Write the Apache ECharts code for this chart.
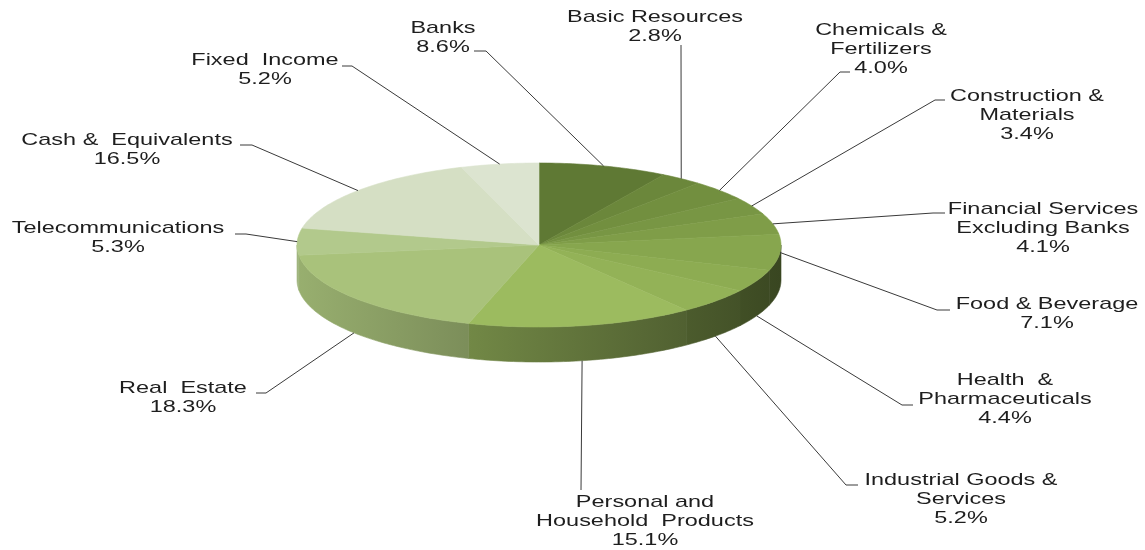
<!DOCTYPE html>
<html><head><meta charset="utf-8">
<script src="https://cdn.jsdelivr.net/npm/echarts@6/dist/echarts.min.js"></script>
<style>html,body{margin:0;padding:0;background:#fff}#c{width:1145px;height:550px}</style>
</head><body><div id="c"></div>
<script>
// ---- data ----
const categories = ['Banks','Basic Resources','Chemicals &\nFertilizers','Construction &\nMaterials','Financial Services\nExcluding Banks','Food & Beverage','Health  &\nPharmaceuticals','Industrial Goods &\nServices','Personal and\nHousehold  Products','Real  Estate','Telecommunications','Cash &  Equivalents','Fixed  Income'];
const shares = [8.6, 2.8, 4.0, 3.4, 4.1, 7.1, 4.4, 5.2, 15.1, 18.3, 5.3, 16.5, 5.2];
const percentLabels = ['8.6%','2.8%','4.0%','3.4%','4.1%','7.1%','4.4%','5.2%','15.1%','18.3%','5.3%','16.5%','5.2%'];
const sliceColors = ['#5f7934','#6b873b','#728f3f','#789644','#7f9d48','#87a64e','#8dac52','#93b257','#9cbb5f','#a9c27b','#b2c98c','#d5dfc4','#dce4d0'];
// label placement: [textCenterX, firstLineCenterY, leaderStartX, leaderStartY, elbowX]
const labelLayout = [
  [443, 28, 474, 51, 486],
  [655, 17, 681, 45, 681],
  [881, 30, 850, 72, 840],
  [1027, 96, 945, 100, 935],
  [1043, 209, 945, 213, 933],
  [1047, 304, 950, 310, 937],
  [1005, 380, 913, 405, 902],
  [961, 480, 858, 485, 846],
  [645, 502, 581, 490, 581],
  [183, 388, 256, 393, 266],
  [118, 228, 235, 234, 246],
  [127, 140, 240, 145, 252],
  [265, 60, 342, 66, 352]
];

// ---- geometry ----
const PIE = {cx: 539, cy: 245, rx: 242, ry: 82, depth: 35};
const total = shares.reduce((a, b) => a + b, 0);
const starts = []; let acc = 0; shares.forEach(v => { starts.push(acc); acc += v; });
const ang = v => v / total * Math.PI * 2;
const pt = (t, dy) => [PIE.cx + PIE.rx * Math.sin(t), PIE.cy - PIE.ry * Math.cos(t) + (dy || 0)];
function arc(a0, a1, dy) {
  const n = Math.max(2, Math.ceil((a1 - a0) / (Math.PI / 180)));
  const p = [];
  for (let k = 0; k <= n; k++) p.push(pt(a0 + (a1 - a0) * k / n, dy));
  return p;
}
function shade(hex, f) {
  const n = parseInt(hex.slice(1), 16);
  const r = Math.round(((n >> 16) & 255) * f), g = Math.round(((n >> 8) & 255) * f), b = Math.round((n & 255) * f);
  return 'rgb(' + r + ',' + g + ',' + b + ')';
}
const seriesData = shares.map((v, i) => [i, v]);

function renderWall(params, api) {
  const i = params.dataIndex;
  const a0 = ang(starts[i]), a1 = ang(starts[i] + api.value(1));
  const b0 = Math.max(a0, Math.PI / 2), b1 = Math.min(a1, Math.PI * 1.5);
  if (b1 <= b0) return {type: 'group', children: []};
  const pts = arc(b0, b1, 0).concat(arc(b0, b1, PIE.depth).reverse());
  const c = sliceColors[i];
  const grad = new echarts.graphic.LinearGradient(PIE.cx - PIE.rx, 0, PIE.cx + PIE.rx, 0, [
    {offset: 0, color: shade(c, 0.9)}, {offset: 0.5, color: shade(c, 0.66)}, {offset: 1, color: shade(c, 0.42)}
  ], true);
  return {type: 'polygon', shape: {points: pts}, style: {fill: grad, stroke: grad, lineWidth: 0.6}};
}
function renderTop(params, api) {
  const i = params.dataIndex;
  const a0 = ang(starts[i]), a1 = ang(starts[i] + api.value(1));
  const pts = [[PIE.cx, PIE.cy]].concat(arc(a0, a1, 0));
  return {type: 'polygon', shape: {points: pts}, style: {fill: sliceColors[i], stroke: sliceColors[i], lineWidth: 0.6}};
}
function renderLabel(params, api) {
  const i = params.dataIndex;
  const a0 = ang(starts[i]), a1 = ang(starts[i] + api.value(1));
  const mid = (a0 + a1) / 2;
  const end = pt(mid, Math.cos(mid) < -0.3 ? PIE.depth : 0);
  const L = labelLayout[i];
  const lh = 19.3;
  return {type: 'group', children: [
    {type: 'polyline', shape: {points: [[L[2], L[3]], [L[4], L[3]], end]}, style: {stroke: '#3a3a3a', lineWidth: 1, fill: null}},
    {type: 'text', x: L[0], y: L[1] - lh / 2, scaleX: 1.38,
      style: {text: categories[i] + '\n' + percentLabels[i], x: 0, y: 0, align: 'center', verticalAlign: 'top',
        fontFamily: '"Liberation Sans", Arial, sans-serif', fontSize: 17, lineHeight: lh, fill: '#1e1e1e'}}
  ]};
}

const chart = echarts.init(document.getElementById('c'), null, {renderer: 'canvas'});
chart.setOption({
  animation: false,
  backgroundColor: '#ffffff',
  series: [
    {type: 'custom', coordinateSystem: 'none', data: seriesData, renderItem: renderWall, z: 1, silent: true},
    {type: 'custom', coordinateSystem: 'none', data: seriesData, renderItem: renderTop, z: 2, silent: true},
    {type: 'custom', coordinateSystem: 'none', data: seriesData, renderItem: renderLabel, z: 3, silent: true}
  ]
});
</script></body></html>
